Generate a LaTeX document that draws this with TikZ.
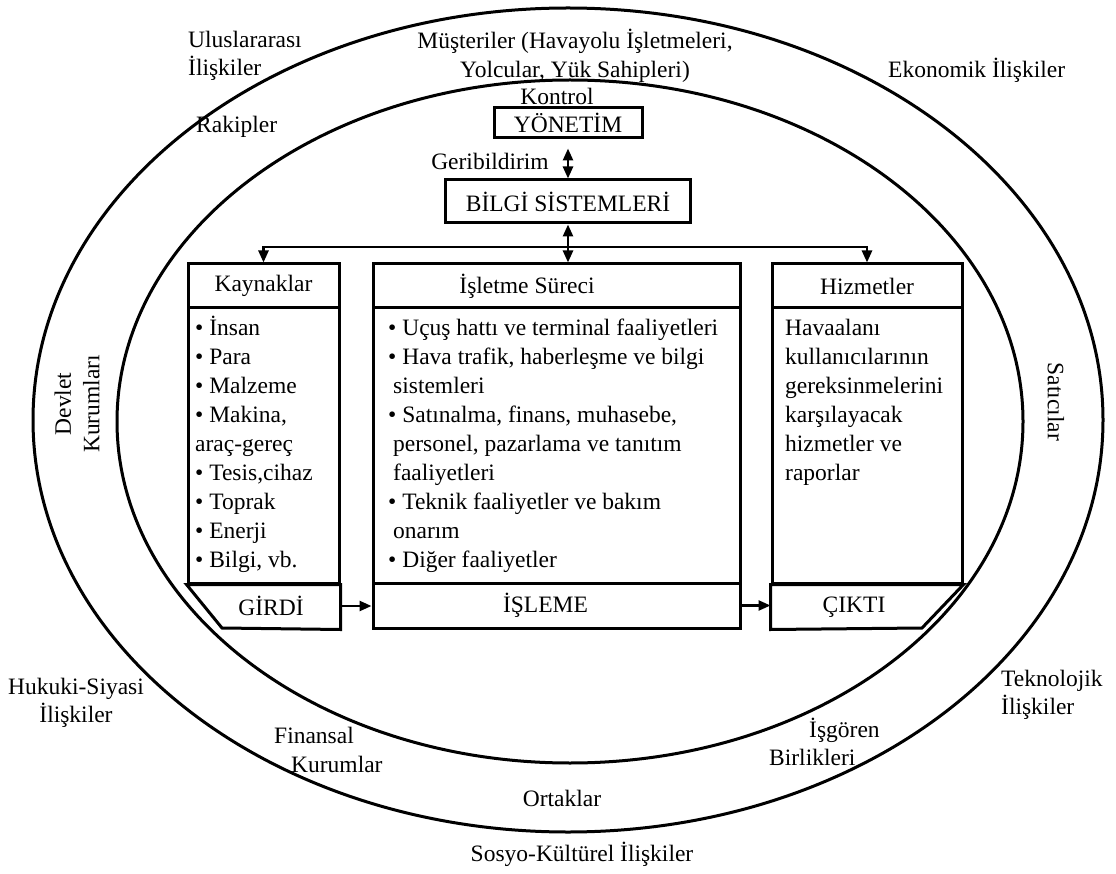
\documentclass[tikz,border=0pt]{standalone}
\usepackage{fontspec}
\setmainfont{Liberation Serif}
\usetikzlibrary{arrows.meta,calc}

\begin{document}
\begin{tikzpicture}[x=1pt,y=-1pt,
  every node/.style={font=\fontsize{23.5}{28.5}\selectfont, inner sep=0pt},
  oval/.style={line width=3pt},
  frame/.style={draw, line width=3pt, inner sep=0pt},
  outline/.style={line width=3pt, line join=miter},
  tip/.style={-{Triangle[length=12pt,width=10pt]}},
  link/.style={line width=2.5pt, tip},
  twoway/.style={line width=2.5pt, {Triangle[length=12pt,width=10pt]}-{Triangle[length=12pt,width=10pt]}},
  listtext/.style={align=left, anchor=north west, font=\fontsize{23.5}{29}\selectfont},
]
\useasboundingbox (0,0) rectangle (1116,874);

% environment rings
\draw[oval] (568,420) ellipse [x radius=535, y radius=412];
\draw[oval] (570,421.5) ellipse [x radius=453, y radius=341.5];

% management and information systems
\node (kon) at (557,96) {Kontrol};
\node[frame, minimum width=148pt, minimum height=30pt] (yon) at (568,123) {YÖNETİM};
\node (geri) at (490,161) {Geribildirim};
\node[frame, minimum width=245pt, minimum height=43pt] (bil) at (568,201.5) {BİLGİ SİSTEMLERİ};

% the three blocks
\node[frame, minimum width=151pt, minimum height=44pt] (kayh) at (263.5,286) {Kaynaklar};
\node[frame, minimum width=151pt, minimum height=275pt] (kayb) at (263.5,445.5) {};
\node[frame, minimum width=367pt, minimum height=44pt] (isth) at (556.5,286) {İşletme Süreci\hspace*{59pt}};
\node[frame, minimum width=367pt, minimum height=275pt] (istb) at (556.5,445.5) {};
\node[frame, minimum width=190pt, minimum height=44pt] (hizh) at (867,286) {Hizmetler};
\node[frame, minimum width=190pt, minimum height=275pt] (hizb) at (867,445.5) {};

\node[listtext] (kayl) at (195,315) {\strut• İnsan\\• Para\\• Malzeme\\• Makina,\\araç-gereç\\• Tesis,cihaz\\• Toprak\\• Enerji\\• Bilgi, vb.};
\node[listtext] (istl) at (388,315) {\strut• Uçuş hattı ve terminal faaliyetleri\\• Hava trafik, haberleşme ve bilgi\\\hspace*{5pt}sistemleri\\• Satınalma, finans, muhasebe,\\\hspace*{5pt}personel, pazarlama ve tanıtım\\\hspace*{5pt}faaliyetleri\\• Teknik faaliyetler ve bakım\\\hspace*{5pt}onarım\\• Diğer faaliyetler};
\node[listtext] (hizl) at (785,315) {\strut Havaalanı\\kullanıcılarının\\gereksinmelerini\\karşılayacak\\hizmetler ve\\raporlar};

% input, processing, output
\node[frame, minimum width=367pt, minimum height=45pt] (isl) at (556.5,605.5) {İŞLEME\hspace*{22pt}};
\coordinate (gcut) at (222,628);
\coordinate (ccut) at (922,628);
\draw[outline] (kayb.south west) -- (kayb.south east) -- (kayb.south east |- isl.south) -- (gcut) -- cycle;
\draw[outline] (hizb.south west) -- (hizb.south west |- isl.south) -- (ccut) -- (hizb.south east) -- cycle;
\node (gir) at (271,606) {GİRDİ};
\node (cik) at (854,607) {ÇIKTI};

% connectors
\draw[twoway, shorten <=9pt] (yon.south) -- (bil.north);
\draw[twoway] (bil.south) -- (bil.south |- isth.north);
\coordinate (bus) at (568,247);
\draw[link] (bus) -| (kayh.north);
\draw[link] (bus) -| (hizh.north);
\draw[link] (gir.east -| kayb.east) -- (gir.east -| isl.west);
\draw[link] (isl.east) -- (isl.east -| hizb.west);

% environment labels
\node[align=left, anchor=west] (ulus) at (188,56) {Uluslararası\\İlişkiler};
\node[align=center] (must) at (575,56) {Müşteriler (Havayolu İşletmeleri,\\Yolcular, Yük Sahipleri)};
\node[anchor=west] (eko) at (888,70) {Ekonomik İlişkiler};
\node[anchor=west] (rak) at (196,127) {Rakipler};
\node[rotate=90, align=center] (dev) at (77,404) {Devlet\\Kurumları};
\node[rotate=-90] (sat) at (1056,402) {Satıcılar};
\node[align=center] (huk) at (76,703) {Hukuki-Siyasi\\İlişkiler};
\node[align=left, anchor=west] (tek) at (1001,695) {Teknolojik\\İlişkiler};
\node[align=left, anchor=west] (fin) at (274,750) {Finansal\\\hspace*{17pt}Kurumlar};
\node[align=left, anchor=west] (isg) at (769,742) {\hspace*{40pt}İşgören\\Birlikleri};
\node (ort) at (562,798) {Ortaklar};
\node (sos) at (582,854) {Sosyo-Kültürel İlişkiler};
\end{tikzpicture}
\end{document}
